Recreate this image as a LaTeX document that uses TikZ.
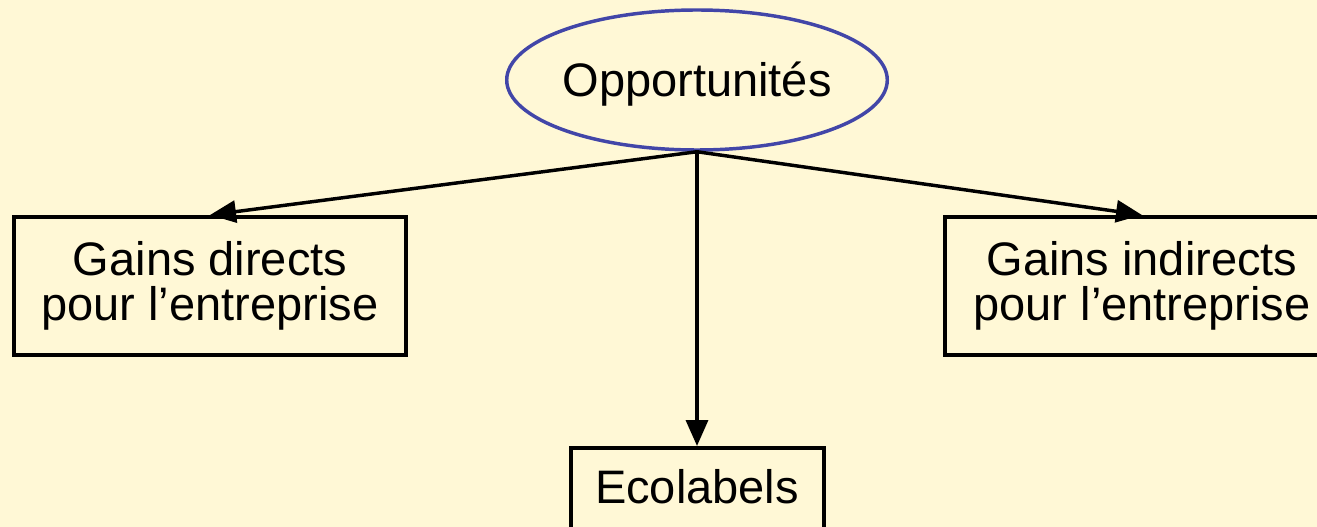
\documentclass[tikz,border=0pt]{standalone}
\usepackage{fontspec}
\setmainfont{Liberation Sans}
\usetikzlibrary{arrows.meta,shapes.geometric}
\definecolor{paper}{RGB}{255,248,214}
\definecolor{rim}{RGB}{66,70,168}
\begin{document}
\begin{tikzpicture}[x=0.75pt,y=-0.75pt,
  label font/.style={font=\fontsize{35.25pt}{33.75pt}\selectfont},
  topic/.style={ellipse,draw=rim,line width=2.6pt,inner sep=0pt,
    minimum width=279pt,minimum height=105pt,label font,
    text height=25.4pt,text depth=0pt},
  gainbox/.style={rectangle,draw=black,line width=3pt,inner sep=0pt,
    minimum height=103.5pt,align=center,label font},
  leafbox/.style={rectangle,draw=black,line width=3pt,inner sep=0pt,
    minimum width=189.75pt,minimum height=67.5pt,label font,
    text height=25.4pt,text depth=10.2pt},
  link/.style={line width=2.6pt,-{Triangle[length=19.5pt,width=16.5pt]}}]
  \useasboundingbox (0,0) rectangle (1317,527);
  \fill[paper] (0,0) rectangle (1317,527);

  \node[topic] (opp) at (697,80) {Opportunités};
  \node[gainbox,minimum width=294pt] (direct) at (210,286)
    {Gains directs\\pour l’entreprise};
  \node[gainbox,minimum width=295.5pt] (indirect) at (1142,286)
    {Gains indirects\\pour l’entreprise};
  \node[leafbox] (eco) at (697,493) {Ecolabels};

  \draw[link] (opp.south) -- (direct.north);
  \draw[link] (opp.south) -- (indirect.north);
  \draw[link] (opp.south) -- (eco.north);
\end{tikzpicture}
\end{document}
